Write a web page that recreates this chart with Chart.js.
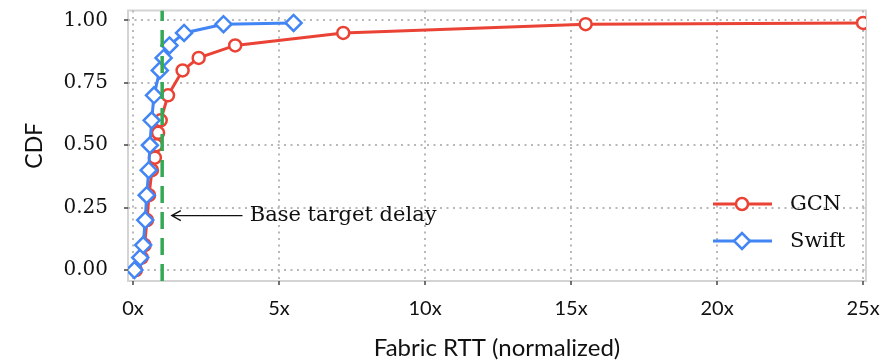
<!DOCTYPE html>
<html lang="en">
<head>
<meta charset="UTF-8">
<title>Fabric RTT CDF</title>
<script src="https://cdn.jsdelivr.net/npm/chart.js"></script>
<style>
  html, body { margin: 0; padding: 0; background: #fff; }
  .wrap { width: 889px; height: 364px; position: relative; }
</style>
</head>
<body>
<div class="wrap"><canvas id="cdf"></canvas></div>
<script>
// data
const gcnRtt = [0.1, 0.3, 0.4, 0.48, 0.55, 0.65, 0.75, 0.8, 0.86, 0.95, 1.2, 1.7, 2.25, 3.5, 7.2, 15.5, 25];
const gcnCdf = [0, 0.05, 0.1, 0.2, 0.3, 0.4, 0.45, 0.5, 0.55, 0.6, 0.7, 0.8, 0.85, 0.9, 0.95, 0.985, 0.99];
const swiftRtt = [0.05, 0.25, 0.35, 0.42, 0.47, 0.54, 0.58, 0.64, 0.72, 0.92, 1.05, 1.25, 1.75, 3.1, 5.5];
const swiftCdf = [0, 0.05, 0.1, 0.2, 0.3, 0.4, 0.5, 0.6, 0.7, 0.8, 0.85, 0.9, 0.95, 0.985, 0.99];
const baseTarget = 1;
const xTicks = [0, 5, 10, 15, 20, 25];
const yTicks = [0, 0.25, 0.5, 0.75, 1];

const RED = '#ea4335', BLUE = '#4285f4', GREEN = '#34a853';
const SERIF = "'DejaVu Serif', serif";
const SANS = "Lato, 'DejaVu Sans', sans-serif";

const pts = (xs, ys) => xs.map((x, i) => ({ x: x, y: ys[i] }));

// light frame around the plot
const frame = {
    id: 'frame',
    beforeDraw(chart) {
        const { ctx, chartArea: a } = chart;
        ctx.save();
        ctx.strokeStyle = '#d4d4d4';
        ctx.lineWidth = 2;
        ctx.strokeRect(a.left, a.top, a.right - a.left, a.bottom - a.top);
        ctx.restore();
    }
};

// arrow + label and legend inside the plot
const notes = {
    id: 'notes',
    afterDraw(chart) {
        const { ctx, scales: { x, y } } = chart;
        ctx.save();
        // arrow
        const ay = y.getPixelForValue(0.218);
        const x0 = x.getPixelForValue(1.33), x1 = x.getPixelForValue(3.75);
        ctx.strokeStyle = '#111';
        ctx.lineWidth = 1.4;
        ctx.beginPath();
        ctx.moveTo(x1, ay); ctx.lineTo(x0, ay);
        ctx.moveTo(x0 + 9, ay - 5); ctx.lineTo(x0, ay); ctx.lineTo(x0 + 9, ay + 5);
        ctx.stroke();
        ctx.fillStyle = '#111';
        ctx.font = '21px ' + SERIF;
        ctx.textBaseline = 'middle';
        ctx.fillText('Base target delay', x.getPixelForValue(4.0), ay);

        // legend
        const rows = [{ ds: chart.data.datasets[1], y: 204 }, { ds: chart.data.datasets[2], y: 241 }];
        rows.forEach(r => {
            ctx.strokeStyle = r.ds.borderColor;
            ctx.lineWidth = 3;
            ctx.beginPath();
            ctx.moveTo(713, r.y); ctx.lineTo(772, r.y);
            ctx.stroke();
            ctx.fillStyle = '#fff';
            ctx.lineWidth = r.ds.pointBorderWidth;
            Chart.helpers.drawPoint(ctx, { pointStyle: r.ds.pointStyle, radius: r.ds.pointRadius, borderWidth: r.ds.pointBorderWidth, rotation: 0 }, 742, r.y);
            ctx.fillStyle = '#111';
            ctx.font = '21px ' + SERIF;
            ctx.fillText(r.ds.label, 790, r.y + 1);
        });
        ctx.restore();
    }
};

new Chart(document.getElementById('cdf'), {
    type: 'scatter',
    data: {
        datasets: [
            {
                label: 'Base target delay',
                data: [{ x: baseTarget, y: -0.044 }, { x: baseTarget, y: 1.04 }],
                showLine: true, borderColor: GREEN, borderWidth: 3.5, borderDash: [17, 9],
                pointRadius: 0, order: 0
            },
            {
                label: 'GCN',
                data: pts(gcnRtt, gcnCdf),
                showLine: true, borderColor: RED, backgroundColor: '#fff', borderWidth: 3,
                pointStyle: 'circle', pointRadius: 6, pointBorderWidth: 2.5,
                pointBorderColor: RED, pointBackgroundColor: '#fff', order: 2
            },
            {
                label: 'Swift',
                data: pts(swiftRtt, swiftCdf),
                showLine: true, borderColor: BLUE, backgroundColor: '#fff', borderWidth: 3,
                pointStyle: 'rectRot', pointRadius: 8, pointBorderWidth: 2.5,
                pointBorderColor: BLUE, pointBackgroundColor: '#fff', order: 1
            }
        ]
    },
    options: {
        responsive: true,
        maintainAspectRatio: false,
        animation: false,
        layout: { padding: { top: 8, right: 23, left: 0, bottom: 0 } },
        plugins: { legend: { display: false }, tooltip: { enabled: false } },
        scales: {
            x: {
                type: 'linear', min: -0.17, max: 25.1,
                afterBuildTicks: s => { s.ticks = xTicks.map(v => ({ value: v })); },
                afterFit: s => { s.height = 83; s.paddingLeft = 0; s.paddingRight = 0; },
                grid: { color: '#b8b8b8', lineWidth: 2, tickColor: '#444', tickLength: 4, tickWidth: 1.5 },
                border: { display: false, dash: [2, 4.5] },
                ticks: { color: '#111', font: { family: SANS, size: 20 }, padding: 12, callback: v => v + 'x' },
                title: { display: true, text: 'Fabric RTT (normalized)', color: '#111', font: { family: SANS, size: 24 }, padding: 1 }
            },
            y: {
                type: 'linear', min: -0.044, max: 1.04,
                afterBuildTicks: s => { s.ticks = yTicks.map(v => ({ value: v })); },
                afterFit: s => { s.width = 128; s.paddingTop = 0; s.paddingBottom = 0; },
                grid: { color: '#b8b8b8', lineWidth: 2, tickColor: '#444', tickLength: 4, tickWidth: 1.5 },
                border: { display: false, dash: [2, 4.5] },
                ticks: { color: '#111', font: { family: SERIF, size: 20 }, padding: 16, callback: v => v.toFixed(2) },
                title: { display: true, text: 'CDF', color: '#111', font: { family: SANS, size: 23 }, padding: 21 }
            }
        }
    },
    plugins: [frame, notes]
});
</script>
</body>
</html>
